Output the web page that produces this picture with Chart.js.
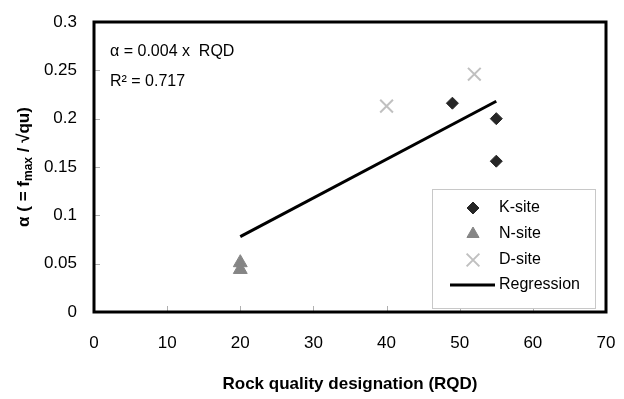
<!DOCTYPE html>
<html>
<head>
<meta charset="utf-8">
<script src="https://cdn.jsdelivr.net/npm/chart.js@4/dist/chart.umd.min.js"></script>
<style>
  body { margin: 0; background: #fff; }
  #wrap { width: 624px; height: 399px; }
</style>
</head>
<body>
<div id="wrap"><canvas id="rqdChart" width="624" height="399"></canvas></div>
<script>
const kSiteRqd = [49, 55, 55];
const kSiteAlpha = [0.216, 0.2, 0.156];
const nSiteRqd = [20, 20];
const nSiteAlpha = [0.051, 0.044];
const dSiteRqd = [40, 52];
const dSiteAlpha = [0.213, 0.246];
const regRqd = [20, 55];
const regAlpha = [0.078, 0.218];
const seriesNames = ["K-site", "N-site", "D-site", "Regression"];
const equationLines = ["α = 0.004 x  RQD", "R² = 0.717"];

const FONT = "'Liberation Sans', Arial, sans-serif";

function toPoints(xs, ys) {
  return xs.map((x, i) => ({x: x, y: ys[i]}));
}

// keep the plot area where the layout padding puts it
function noOverflow(s) {
  s.paddingLeft = 0; s.paddingRight = 0; s.paddingTop = 0; s.paddingBottom = 0;
}

// border, inner tick marks, equation, legend, y title
const decorPlugin = {
  id: 'decor',
  afterDatasetsDraw(chart) {
    const ctx = chart.ctx;
    const a = chart.chartArea;
    const xs = chart.scales.x, ys = chart.scales.y;
    ctx.save();

    // small grey ticks pointing inward
    ctx.strokeStyle = '#b0b0b0';
    ctx.lineWidth = 1;
    ys.ticks.forEach(t => {
      const py = Math.round(ys.getPixelForValue(t.value)) + 0.5;
      ctx.beginPath(); ctx.moveTo(a.left, py); ctx.lineTo(a.left + 6, py); ctx.stroke();
    });
    xs.ticks.forEach(t => {
      const px = Math.round(xs.getPixelForValue(t.value)) + 0.5;
      ctx.beginPath(); ctx.moveTo(px, a.bottom); ctx.lineTo(px, a.bottom - 6); ctx.stroke();
    });

    // equation text
    ctx.fillStyle = '#000';
    ctx.font = '16px ' + FONT;
    ctx.textBaseline = 'middle';
    ctx.textAlign = 'left';
    ctx.fillText(equationLines[0], 110, 52);
    ctx.fillText(equationLines[1], 110, 82);

    // legend box
    const lx = 432, ly = 189, lw = 163, lh = 119;
    ctx.fillStyle = '#fff';
    ctx.fillRect(lx, ly, lw, lh);
    ctx.strokeStyle = '#c8c8c8';
    ctx.lineWidth = 1;
    ctx.strokeRect(lx + 0.5, ly + 0.5, lw, lh);
    const rowY = [208, 234, 260, 285];
    chart.data.datasets.forEach((ds, i) => {
      const y = rowY[i];
      if (ds.type === 'line') {
        ctx.strokeStyle = ds.borderColor;
        ctx.lineWidth = ds.borderWidth;
        ctx.beginPath(); ctx.moveTo(450, y); ctx.lineTo(495, y); ctx.stroke();
      } else {
        ctx.fillStyle = ds.backgroundColor;
        ctx.strokeStyle = ds.borderColor;
        ctx.lineWidth = ds.borderWidth;
        const r = ds.pointStyle === 'triangle' ? 7 : ds.pointRadius;
        Chart.helpers.drawPoint(ctx, {pointStyle: ds.pointStyle, radius: r, borderWidth: ds.borderWidth, rotation: 0}, 473, y);
      }
      ctx.fillStyle = '#000';
      ctx.font = '16px ' + FONT;
      ctx.textBaseline = 'middle';
      ctx.fillText(ds.label, 499, y);
    });

    // plot border
    ctx.strokeStyle = '#000';
    ctx.lineWidth = 3;
    ctx.strokeRect(a.left, a.top, a.right - a.left, a.bottom - a.top);

    // y axis title with subscript
    const parts = [
      {t: 'α ( = f', size: 17, dy: 0},
      {t: 'max', size: 12, dy: 3},
      {t: ' / √qu)', size: 17, dy: 0}
    ];
    ctx.translate(23, (a.top + a.bottom) / 2);
    ctx.rotate(-Math.PI / 2);
    let total = 0;
    parts.forEach(p => { ctx.font = 'bold ' + p.size + 'px ' + FONT; p.w = ctx.measureText(p.t).width; total += p.w; });
    let cx = -total / 2;
    ctx.fillStyle = '#000';
    ctx.textBaseline = 'alphabetic';
    parts.forEach(p => {
      ctx.font = 'bold ' + p.size + 'px ' + FONT;
      ctx.fillText(p.t, cx, 6 + p.dy);
      cx += p.w;
    });
    ctx.restore();
  }
};

new Chart(document.getElementById('rqdChart'), {
  type: 'scatter',
  data: {
    datasets: [
      {label: seriesNames[0], data: toPoints(kSiteRqd, kSiteAlpha), pointStyle: 'rectRot', pointRadius: 6,
       backgroundColor: '#262626', borderColor: '#262626', borderWidth: 1},
      {label: seriesNames[1], data: toPoints(nSiteRqd, nSiteAlpha), pointStyle: 'triangle', pointRadius: 8,
       backgroundColor: '#858585', borderColor: '#858585', borderWidth: 1},
      {label: seriesNames[2], data: toPoints(dSiteRqd, dSiteAlpha), pointStyle: 'crossRot', pointRadius: 9,
       backgroundColor: '#c0c0c0', borderColor: '#c0c0c0', borderWidth: 2},
      {type: 'line', label: seriesNames[3], data: toPoints(regRqd, regAlpha), borderColor: '#000', borderWidth: 3,
       pointRadius: 0, showLine: true, fill: false}
    ]
  },
  options: {
    responsive: false,
    animation: false,
    devicePixelRatio: 1,
    layout: {padding: {top: 22, right: 18, left: 0, bottom: 0}},
    plugins: {legend: {display: false}, tooltip: {enabled: false}},
    scales: {
      x: {
        type: 'linear', min: 0, max: 70,
        afterFit: s => { s.height = 87; noOverflow(s); },
        ticks: {stepSize: 10, color: '#000', padding: 21, font: {family: FONT, size: 17}},
        grid: {display: true, drawOnChartArea: false, drawTicks: false},
        border: {display: false},
        title: {display: true, text: 'Rock quality designation (RQD)', color: '#000',
                font: {family: FONT, size: 17, weight: 'bold'}}
      },
      y: {
        type: 'linear', min: 0, max: 0.3,
        afterFit: s => { s.width = 94; noOverflow(s); },
        ticks: {stepSize: 0.05, color: '#000', padding: 17, font: {family: FONT, size: 17},
                callback: v => String(+v.toFixed(2))},
        grid: {display: true, drawOnChartArea: false, drawTicks: false},
        border: {display: false}
      }
    }
  },
  plugins: [decorPlugin]
});
</script>
</body>
</html>
